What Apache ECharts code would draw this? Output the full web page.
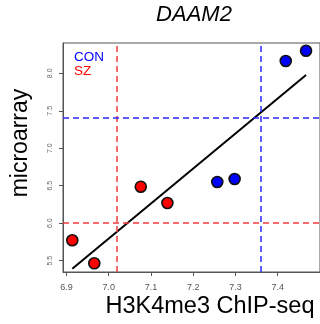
<!DOCTYPE html>
<html>
<head>
<meta charset="utf-8">
<script src="https://cdn.jsdelivr.net/npm/echarts@6/dist/echarts.min.js"></script>
<style>html,body{margin:0;padding:0;background:#fff;}#c{width:320px;height:324px;}</style>
</head>
<body>
<div id="c"></div>
<script>
const xTicks = [6.9, 7.0, 7.1, 7.2, 7.3, 7.4];
const yTicks = [5.5, 6.0, 6.5, 7.0, 7.5, 8.0];
const szPoints = [[6.914, 5.772], [6.966, 5.465], [7.076, 6.487], [7.139, 6.270]];
const conPoints = [[7.257, 6.550], [7.298, 6.590], [7.419, 8.164], [7.467, 8.301]];
const fitLine = [[6.914, 5.393], [7.467, 7.977]];
const szCut = { x: 7.023, y: 6.0 };
const conCut = { x: 7.3605, y: 7.408 };

const chart = echarts.init(document.getElementById('c'));
const axisColor = '#555';
const font = '"Liberation Sans", Arial, sans-serif';
const dash = (color) => ({ color: color, width: 1.5, type: [6, 4], opacity: 1 });

chart.setOption({
  animation: false,
  grid: { left: 63, top: 43, width: 262, height: 229, show: true, borderColor: axisColor, borderWidth: 1 },
  xAxis: {
    type: 'value', min: 6.892, max: 7.5,
    axisLine: { lineStyle: { color: axisColor, width: 1 } },
    axisTick: { show: true, length: 4, customValues: xTicks, lineStyle: { color: axisColor } },
    axisLabel: { customValues: xTicks, fontSize: 9, color: '#555', margin: 11, fontFamily: font,
      formatter: v => v.toFixed(1) },
    splitLine: { show: false }
  },
  yAxis: {
    type: 'value', min: 5.349, max: 8.404,
    axisLine: { show: true, lineStyle: { color: axisColor, width: 1 } },
    axisTick: { show: true, length: 4, customValues: yTicks, lineStyle: { color: axisColor } },
    axisLabel: { customValues: yTicks, fontSize: 7, color: '#666', margin: 9, rotate: 90, fontFamily: font,
      formatter: v => v.toFixed(1) },
    splitLine: { show: false }
  },
  series: [
    {
      type: 'line', data: [], z: 1, silent: true,
      markLine: {
        silent: true, symbol: ['none', 'none'], label: { show: false }, animation: false,
        data: [
          { xAxis: szCut.x, lineStyle: dash('#f23a3a') },
          { yAxis: szCut.y, lineStyle: dash('#f23a3a') },
          { xAxis: conCut.x, lineStyle: dash('#2a2aff') },
          { yAxis: conCut.y, lineStyle: dash('#2a2aff') }
        ]
      }
    },
    {
      type: 'line', data: fitLine, z: 2, symbol: 'none',
      lineStyle: { color: '#000', width: 2 }
    },
    {
      type: 'scatter', data: szPoints, z: 3, symbolSize: 11,
      itemStyle: { color: '#ff0000', borderColor: '#111', borderWidth: 1.6, opacity: 1 }
    },
    {
      type: 'scatter', data: conPoints, z: 3, symbolSize: 11,
      itemStyle: { color: '#0000ff', borderColor: '#111', borderWidth: 1.6, opacity: 1 }
    }
  ],
  graphic: [
    { type: 'text', x: 194, y: 15, style: { text: 'DAAM2', font: 'italic 22px ' + font, fill: '#000', textAlign: 'center', textVerticalAlign: 'middle' } },
    { type: 'text', x: 21, y: 143, rotation: Math.PI / 2, style: { text: 'microarray', font: '23px ' + font, fill: '#000', textAlign: 'center', textVerticalAlign: 'middle' } },
    { type: 'text', x: 210, y: 307, style: { text: 'H3K4me3 ChIP-seq', font: '23.5px ' + font, fill: '#000', textAlign: 'center', textVerticalAlign: 'middle' } },
    { type: 'text', x: 74, y: 57.5, style: { text: 'CON', font: '13.5px ' + font, fill: '#0000ff', textAlign: 'left', textVerticalAlign: 'middle' } },
    { type: 'text', x: 74, y: 71.5, style: { text: 'SZ', font: '13.5px ' + font, fill: '#ff0000', textAlign: 'left', textVerticalAlign: 'middle' } }
  ]
});
</script>
</body>
</html>
